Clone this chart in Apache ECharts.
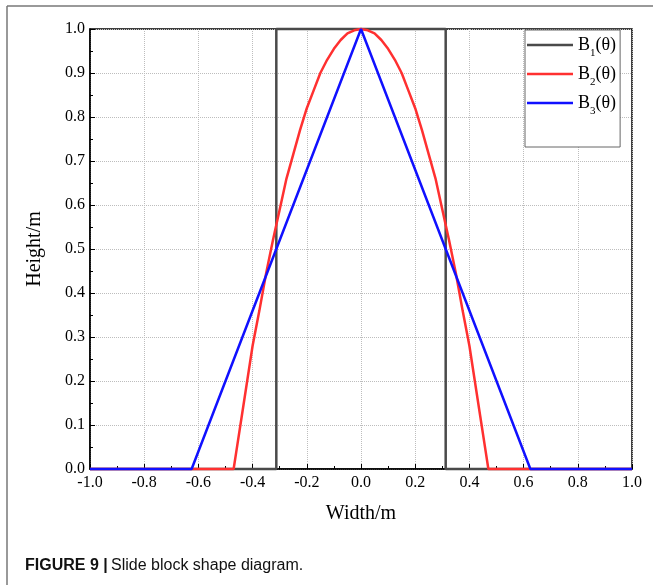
<!DOCTYPE html>
<html>
<head>
<meta charset="utf-8">
<script src="https://cdn.jsdelivr.net/npm/echarts@6/dist/echarts.min.js"></script>
<style>
  html, body { margin: 0; padding: 0; background: #fff; }
  #chart { width: 653px; height: 585px; }
</style>
</head>
<body>
<div id="chart"></div>
<script>
// B1: rectangle, B2: rounded cap, B3: triangle
var widthB1 = [-1, -0.3125, -0.3125, 0.3125, 0.3125, 1];
var heightB1 = [0, 0, 1, 1, 0, 0];

var widthB2 = [-1, -0.47, -0.46, -0.44, -0.42, -0.4, -0.375, -0.35, -0.325, -0.3, -0.275, -0.25, -0.225,
	-0.2, -0.175, -0.15, -0.125, -0.1, -0.075, -0.05, -0.025, 0,
	0.025, 0.05, 0.075, 0.1, 0.125, 0.15, 0.175, 0.2, 0.225, 0.25, 0.275, 0.3, 0.325, 0.35, 0.375,
	0.4, 0.42, 0.44, 0.46, 0.47, 1];
var heightB2 = [0, 0, 0.04, 0.12, 0.2, 0.28, 0.36, 0.445, 0.52, 0.59, 0.66, 0.715, 0.77,
	0.82, 0.86, 0.9, 0.93, 0.955, 0.975, 0.99, 0.997, 1,
	0.997, 0.99, 0.975, 0.955, 0.93, 0.9, 0.86, 0.82, 0.77, 0.715, 0.66, 0.59, 0.52, 0.445, 0.36,
	0.28, 0.2, 0.12, 0.04, 0, 0];

var widthB3 = [-1, -0.625, 0, 0.625, 1];
var heightB3 = [0, 0, 1, 0, 0];

var seriesNames = ["B1", "B2", "B3"];
var seriesColors = ["#4a4a4a", "#ff3030", "#1010ff"];

function pairs(xs, ys) {
	return xs.map(function (x, i) { return [x, ys[i]]; });
}

var serif = "Liberation Serif";
var chart = echarts.init(document.getElementById("chart"));

var lineSeries = [[widthB1, heightB1], [widthB2, heightB2], [widthB3, heightB3]].map(function (d, i) {
	return {
		name: seriesNames[i],
		type: "line",
		data: pairs(d[0], d[1]),
		symbol: "none",
		clip: false,
		lineStyle: { color: seriesColors[i], width: 2.5 },
		itemStyle: { color: seriesColors[i] }
	};
});

chart.setOption({
	animation: false,
	grid: { left: 90, top: 29, right: 21, bottom: 116, show: true, borderColor: "#000", borderWidth: 1.5 },
	legend: {
		orient: "vertical",
		left: 525,
		top: 30,
		padding: [6, 4, 30, 2],
		itemGap: 6,
		itemWidth: 46,
		itemHeight: 2.5,
		icon: "rect",
		backgroundColor: "#fff",
		borderColor: "#666",
		borderWidth: 1,
		borderRadius: 0,
		formatter: function (name) {
			return "{a|B}{s|" + name.slice(1) + "}{a|(θ)}";
		},
		textStyle: {
			padding: [0, 0, 0, 0],
			rich: {
				a: { fontFamily: serif, fontSize: 18, color: "#000", lineHeight: 18 },
				s: { fontFamily: serif, fontSize: 11, color: "#000", lineHeight: 18, verticalAlign: "bottom", padding: [0, 0, -5, 0] }
			}
		},
		data: seriesNames
	},
	xAxis: {
		type: "value",
		min: -1,
		max: 1,
		interval: 0.2,
		name: "Width/m",
		nameLocation: "middle",
		nameGap: 35,
		nameTextStyle: { fontFamily: serif, fontSize: 20, color: "#000" },
		axisLine: { show: true, onZero: false, lineStyle: { color: "#000", width: 1.5 } },
		axisTick: { show: true, inside: true, length: 5, lineStyle: { color: "#000" } },
		minorTick: { show: true, splitNumber: 2, length: 3, lineStyle: { color: "#000" } },
		axisLabel: {
			fontFamily: serif, fontSize: 16, color: "#000", margin: 6,
			formatter: function (v) { return v.toFixed(1); }
		},
		splitLine: { show: true, lineStyle: { color: "#bdbdbd", type: "dotted", width: 1 } }
	},
	yAxis: {
		type: "value",
		min: 0,
		max: 1,
		interval: 0.1,
		name: "Height/m",
		nameLocation: "middle",
		nameGap: 45,
		nameTextStyle: { fontFamily: serif, fontSize: 20, color: "#000" },
		axisLine: { show: true, onZero: false, lineStyle: { color: "#000", width: 1.5 } },
		axisTick: { show: true, inside: true, length: 5, lineStyle: { color: "#000" } },
		minorTick: { show: true, splitNumber: 2, length: 3, lineStyle: { color: "#000" } },
		axisLabel: {
			fontFamily: serif, fontSize: 16, color: "#000", margin: 5,
			formatter: function (v) { return v.toFixed(1); }
		},
		splitLine: { show: true, lineStyle: { color: "#bdbdbd", type: "dotted", width: 1 } }
	},
	graphic: [
		{ type: "line", shape: { x1: 7, y1: 6, x2: 653, y2: 6 }, style: { stroke: "#777", lineWidth: 1.5 } },
		{ type: "line", shape: { x1: 7, y1: 6, x2: 7, y2: 585 }, style: { stroke: "#777", lineWidth: 1.5 } },
		{
			type: "text",
			left: 25,
			top: 558,
			style: {
				text: "{b|FIGURE 9 |} {n|Slide block shape diagram.}",
				rich: {
					b: { fontFamily: "Liberation Sans", fontWeight: "bold", fontSize: 16, fill: "#111" },
					n: { fontFamily: "Liberation Sans", fontSize: 16, fill: "#111" }
				}
			}
		}
	],
	series: lineSeries
});
</script>
</body>
</html>
